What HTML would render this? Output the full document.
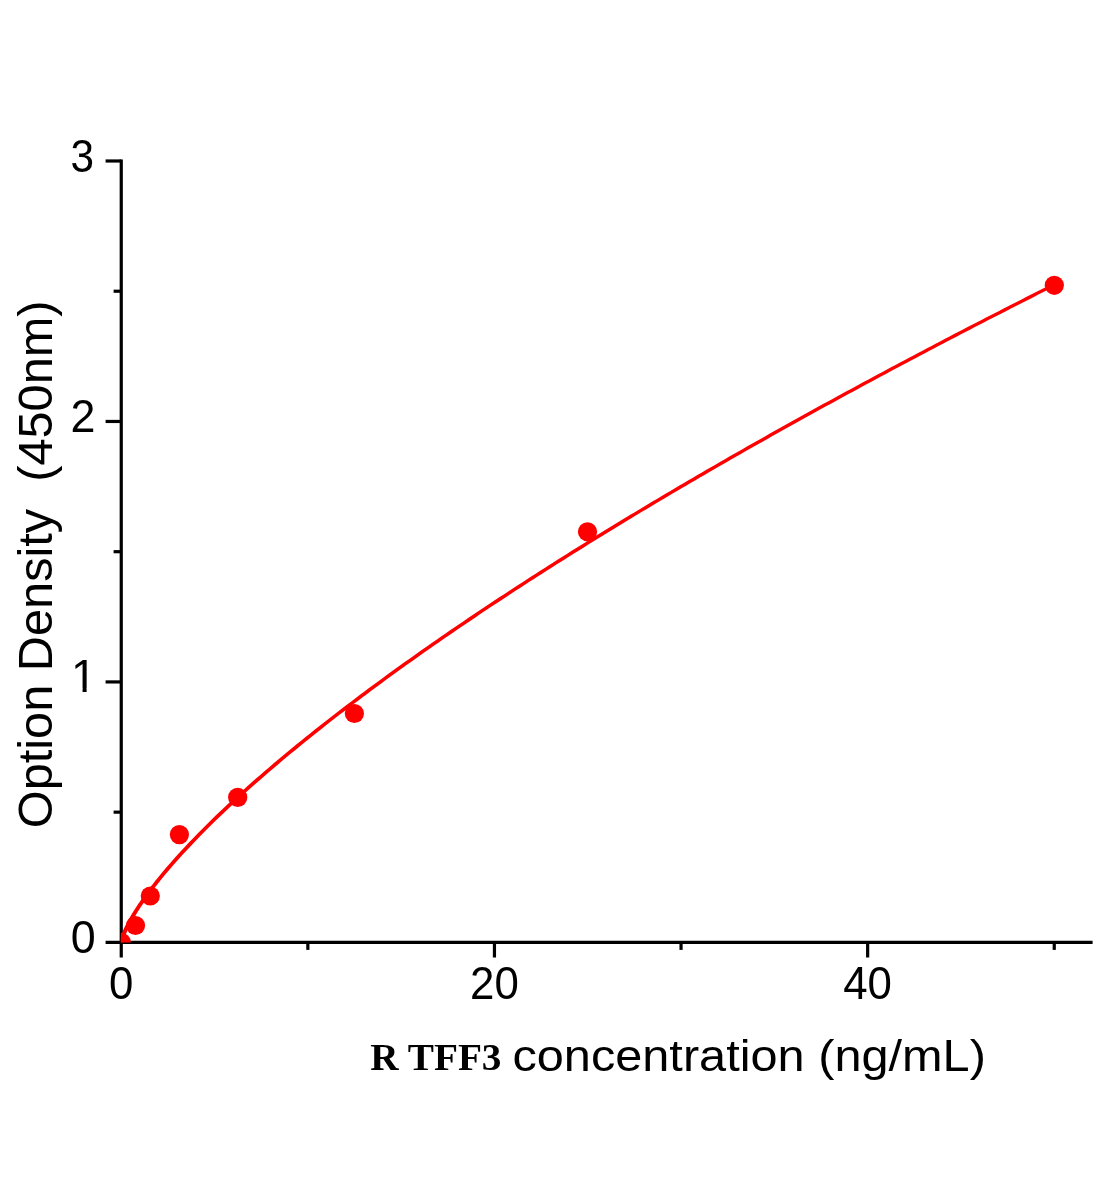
<!DOCTYPE html>
<html lang="en"><head><meta charset="utf-8"><title>R TFF3 standard curve</title>
<style>html,body{margin:0;padding:0;background:#fff}svg{display:block}</style></head>
<body>
<svg width="1104" height="1200" viewBox="0 0 1104 1200">
<rect width="1104" height="1200" fill="#fff"/>
<g stroke="#000" stroke-width="3.2" fill="none" shape-rendering="auto">
<line x1="121.25" y1="159.4" x2="121.25" y2="957.5"/>
<line x1="105.6" y1="942.4" x2="1092.6" y2="942.4"/>
<line x1="105.6" y1="681.93" x2="121.25" y2="681.93"/>
<line x1="105.6" y1="421.46" x2="121.25" y2="421.46"/>
<line x1="105.6" y1="160.99" x2="121.25" y2="160.99"/>
<line x1="113.6" y1="812.16" x2="121.25" y2="812.16"/>
<line x1="113.6" y1="551.69" x2="121.25" y2="551.69"/>
<line x1="113.6" y1="291.22" x2="121.25" y2="291.22"/>
<line x1="494.45" y1="942.4" x2="494.45" y2="957.5"/>
<line x1="867.65" y1="942.4" x2="867.65" y2="957.5"/>
<line x1="307.85" y1="942.4" x2="307.85" y2="949.9"/>
<line x1="681.05" y1="942.4" x2="681.05" y2="949.9"/>
<line x1="1054.25" y1="942.4" x2="1054.25" y2="949.9"/>
</g>
<defs><clipPath id="plot"><rect x="120.85" y="100" width="1000" height="842.6"/></clipPath></defs>
<g clip-path="url(#plot)">
<polyline transform="scale(1.35,1)" points="89.81,942.62 90.77,937.41 91.72,933.91 92.67,930.87 93.63,928.08 94.58,925.47 95.53,923.00 96.49,920.63 97.44,918.35 98.39,916.14 99.35,914.00 100.30,911.91 101.25,909.87 102.21,907.88 103.16,905.92 104.11,904.00 105.07,902.12 106.02,900.26 106.97,898.44 107.93,896.64 108.88,894.86 109.83,893.11 110.79,891.38 111.74,889.67 112.69,887.98 113.65,886.31 114.60,884.66 115.55,883.02 116.51,881.40 117.46,879.80 120.79,874.29 124.13,868.95 127.46,863.73 130.80,858.64 134.13,853.66 137.46,848.78 140.80,843.99 144.13,839.29 147.47,834.65 150.80,830.10 154.13,825.60 157.47,821.17 160.80,816.80 164.14,812.49 167.47,808.22 170.80,804.01 174.14,799.84 177.47,795.72 180.81,791.63 184.14,787.59 187.47,783.59 190.81,779.63 194.14,775.70 197.48,771.80 200.81,767.94 204.14,764.11 207.48,760.31 210.81,756.54 214.15,752.80 217.48,749.09 220.81,745.40 224.15,741.74 227.48,738.10 230.82,734.49 234.15,730.90 237.48,727.33 240.82,723.79 244.15,720.27 247.49,716.77 250.82,713.29 254.15,709.83 257.49,706.39 260.82,702.97 264.16,699.56 267.49,696.18 270.82,692.81 274.16,689.46 277.49,686.13 280.83,682.81 284.16,679.51 287.49,676.23 290.83,672.96 294.16,669.71 297.50,666.47 300.83,663.24 304.16,660.03 307.50,656.84 310.83,653.66 314.17,650.49 317.50,647.34 320.83,644.20 324.17,641.07 327.50,637.95 330.84,634.85 334.17,631.76 337.50,628.68 340.84,625.61 344.17,622.56 347.51,619.51 350.84,616.48 354.17,613.46 357.51,610.45 360.84,607.45 364.18,604.46 367.51,601.48 370.84,598.51 374.18,595.55 377.51,592.60 380.85,589.66 384.18,586.73 387.51,583.81 390.85,580.90 394.18,578.00 397.52,575.11 400.85,572.23 404.18,569.35 407.52,566.49 410.85,563.63 414.19,560.79 417.52,557.95 420.85,555.12 424.19,552.30 427.52,549.48 430.86,546.68 434.19,543.88 437.52,541.09 440.86,538.31 444.19,535.53 447.53,532.76 450.86,530.01 454.19,527.25 457.53,524.51 460.86,521.77 464.20,519.04 467.53,516.32 470.86,513.61 474.20,510.90 477.53,508.20 480.87,505.50 484.20,502.81 487.53,500.13 490.87,497.46 494.20,494.79 497.54,492.13 500.87,489.47 504.20,486.82 507.54,484.18 510.87,481.55 514.21,478.92 517.54,476.29 520.87,473.68 524.21,471.06 527.54,468.46 530.88,465.86 534.21,463.27 537.54,460.68 540.88,458.10 544.21,455.52 547.55,452.95 550.88,450.38 554.21,447.82 557.55,445.27 560.88,442.72 564.22,440.18 567.55,437.64 570.88,435.11 574.22,432.58 577.55,430.06 580.89,427.54 584.22,425.03 587.55,422.53 590.89,420.02 594.22,417.53 597.56,415.04 600.89,412.55 604.22,410.07 607.56,407.59 610.89,405.12 614.23,402.65 617.56,400.19 620.89,397.74 624.23,395.28 627.56,392.83 630.90,390.39 634.23,387.95 637.56,385.52 640.90,383.09 644.23,380.66 647.57,378.24 650.90,375.83 654.23,373.42 657.57,371.01 660.90,368.60 664.24,366.21 667.57,363.81 670.90,361.42 674.24,359.03 677.57,356.65 680.91,354.28 684.24,351.90 687.57,349.53 690.91,347.17 694.24,344.81 697.58,342.45 700.91,340.09 704.24,337.75 707.58,335.40 710.91,333.06 714.25,330.72 717.58,328.39 720.91,326.06 724.25,323.73 727.58,321.41 730.92,319.09 734.25,316.78 737.58,314.46 740.92,312.16 744.25,309.85 747.59,307.55 750.92,305.26 754.25,302.96 757.59,300.68 760.92,298.39 764.26,296.11 767.59,293.83 770.92,291.55 774.26,289.28 777.59,287.02 780.93,284.75" fill="none" stroke="#f00" stroke-width="3.12" stroke-linejoin="round"/>
<circle cx="121.25" cy="942.4" r="9.6" fill="#f00"/>
<circle cx="135.5" cy="925.5" r="9.6" fill="#f00"/>
<circle cx="150.3" cy="896.0" r="9.6" fill="#f00"/>
<circle cx="179.4" cy="834.6" r="9.6" fill="#f00"/>
<circle cx="237.7" cy="797.4" r="9.6" fill="#f00"/>
<circle cx="354.4" cy="713.5" r="9.6" fill="#f00"/>
<circle cx="587.5" cy="531.8" r="9.6" fill="#f00"/>
<circle cx="1054.3" cy="285.3" r="9.6" fill="#f00"/>
</g>
<g font-family="'Liberation Sans', sans-serif" fill="#000" font-size="46" text-anchor="end">
<text transform="translate(95.8,952.9) scale(0.975,1)">0</text>
<text transform="translate(95.55,432.0) scale(0.975,1)">2</text>
<text transform="translate(94.0,171.5) scale(0.92,1)">3</text>
<clipPath id="one"><path d="M60 652.4H100V688H86.63V695.4H82.57V688H60Z"/></clipPath>
<text x="96.5" y="692.4" clip-path="url(#one)">1</text>
</g>
<g font-family="'Liberation Sans', sans-serif" fill="#000" font-size="45.4" text-anchor="middle">
<text transform="translate(121.2,998.9) scale(0.965,1)">0</text>
<text transform="translate(494.4,998.9) scale(0.965,1)">20</text>
<text transform="translate(867.6,998.9) scale(0.965,1)">40</text>
</g>
<text transform="translate(370.31,1070.3) scale(1.044,1)" font-family="'Liberation Serif', serif" font-weight="bold" font-size="37.6" fill="#000">R TFF3</text>
<text transform="translate(512.41,1071.4) scale(1.1066,1)" font-family="'Liberation Sans', sans-serif" fill="#000" font-size="44">concentration (ng/mL)</text>
<text transform="translate(51.6,828.19) rotate(-90) scale(1.0254,1)" font-family="'Liberation Sans', sans-serif" fill="#000" font-size="47.5" xml:space="preserve" style="white-space:pre">Option Density  (450nm)</text>
</svg>
</body></html>
